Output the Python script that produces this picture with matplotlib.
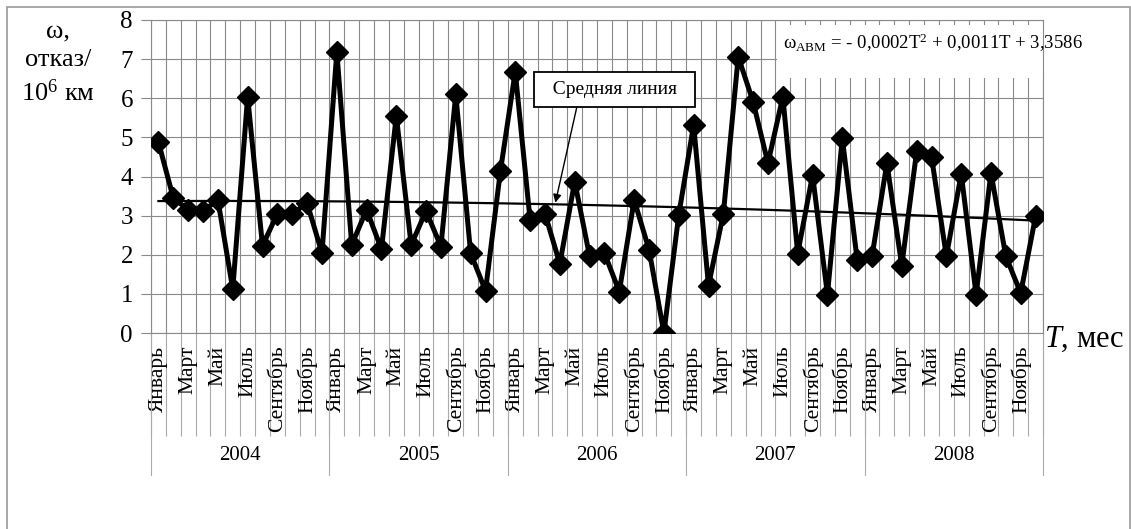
import matplotlib
matplotlib.use("Agg")
import matplotlib.pyplot as plt
import matplotlib.transforms as mtransforms
from matplotlib.patches import Rectangle
import numpy as np

# monthly failure rate, 2004-2008
years = ["2004", "2005", "2006", "2007", "2008"]
months = ["Январь", "Февраль", "Март", "Апрель", "Май", "Июнь",
          "Июль", "Август", "Сентябрь", "Октябрь", "Ноябрь", "Декабрь"]
w_2004 = [4.88, 3.45, 3.15, 3.12, 3.40, 1.12, 6.04, 2.23, 3.05, 3.05, 3.32, 2.04]
w_2005 = [7.19, 2.25, 3.15, 2.14, 5.55, 2.25, 3.12, 2.21, 6.10, 2.04, 1.08, 4.13]
w_2006 = [6.68, 2.89, 3.05, 1.77, 3.87, 1.97, 2.04, 1.06, 3.40, 2.13, 0.00, 3.02]
w_2007 = [5.32, 1.21, 3.05, 7.06, 5.91, 4.34, 6.04, 2.03, 4.04, 0.98, 4.98, 1.87]
w_2008 = [1.96, 4.34, 1.72, 4.64, 4.51, 1.96, 4.07, 0.98, 4.09, 1.96, 1.02, 2.98]

formula = "ω$_{\\mathrm{АВМ}}$ = - 0,0002T$^{2}$ + 0,0011T + 3,3586"

plt.rcParams.update({
    "font.family": ["Liberation Serif", "DejaVu Serif"],
    "mathtext.fontset": "custom",
    "mathtext.rm": "Liberation Serif",
    "mathtext.it": "Liberation Serif:italic",
})

values = np.array(w_2004 + w_2005 + w_2006 + w_2007 + w_2008)
n = len(values)
x = np.arange(n)
T = x + 1
coef = np.polyfit(T, values, 2)
trend = np.polyval(coef, T)

grid_col = "#8a8a8a"

fig = plt.figure(figsize=(11.31, 5.29), dpi=100)
ax = fig.add_axes([151 / 1131, 1 - 333 / 529, 892 / 1131, 313 / 529])

# outer frame of the chart
fig.patches.append(Rectangle((7 / 1131, -0.2), 1123 / 1131, 1.2 - 7 / 529,
                             transform=fig.transFigure, fill=False,
                             edgecolor="#999999", linewidth=1.2))

ax.plot(x, trend, color="black", lw=1.6, zorder=3)
ax.plot(x, values, color="black", lw=3.6, marker="D", ms=11.5, zorder=4)

ax.set_xlim(-0.5, n - 0.5)
ax.set_ylim(0, 8)

# grid: category boundaries and unit steps
bounds = np.arange(n + 1) - 0.5
ax.set_xticks(bounds)
ax.set_xticklabels([])
ax.tick_params(axis="x", which="major", length=74, width=0.8, color="#aaaaaa")
ax.set_xticks(x[::2], minor=True)
ax.set_xticklabels([months[i % 12] for i in x[::2]], minor=True,
                   rotation=90, fontsize=15.5)
ax.tick_params(axis="x", which="minor", length=0, pad=9)

ax.set_yticks(np.arange(0, 9))
ax.tick_params(axis="y", length=7, width=0.8, color=grid_col, labelsize=18, pad=6)

ax.grid(True, which="major", color=grid_col, lw=0.8)
for s in ax.spines.values():
    s.set_color(grid_col)
    s.set_linewidth(0.8)

# year separators and labels below month labels
trans = mtransforms.blended_transform_factory(ax.transData, ax.transAxes)
for k in range(len(years) + 1):
    xb = k * 12 - 0.5
    ax.plot([xb, xb], [0, -0.455], transform=trans, color="#aaaaaa",
            lw=0.8, clip_on=False)
for k, yr in enumerate(years):
    ax.text(k * 12 + 5.5, -0.39, yr, transform=trans, ha="center",
            va="center", fontsize=15)

# axis titles
fig.text(58 / 1131, 1 - 63 / 529, "ω,\nотказ/\n10$^{6}$ км", ha="center",
         va="center", fontsize=19, linespacing=1.4)
fig.text(1044 / 1131, 1 - 339 / 529, "$\\it{T}$, мес", ha="left",
         va="center", fontsize=22)

# white patch behind the regression equation
ax.add_patch(Rectangle((0.702, 0.815), 0.4, 0.17, transform=ax.transAxes,
                       fc="white", ec="none", zorder=2, clip_on=False))
ax.text(0.708, 0.927, formula, transform=ax.transAxes, ha="left",
        va="center", fontsize=13.5, zorder=5)

# callout for the trend line
ax.annotate("  Средняя линия  ", xy=(26.7, 3.33), xytext=(30.7, 6.23),
            ha="center", va="center", fontsize=14, zorder=6,
            bbox=dict(boxstyle="square,pad=0.45", fc="white", ec="black", lw=1.3),
            arrowprops=dict(arrowstyle="-|>", color="black", lw=1.0,
                            mutation_scale=12, shrinkA=0, shrinkB=0,
                            relpos=(0.25, 0.0)))

fig.savefig("out.png", dpi=100)
plt.close(fig)
